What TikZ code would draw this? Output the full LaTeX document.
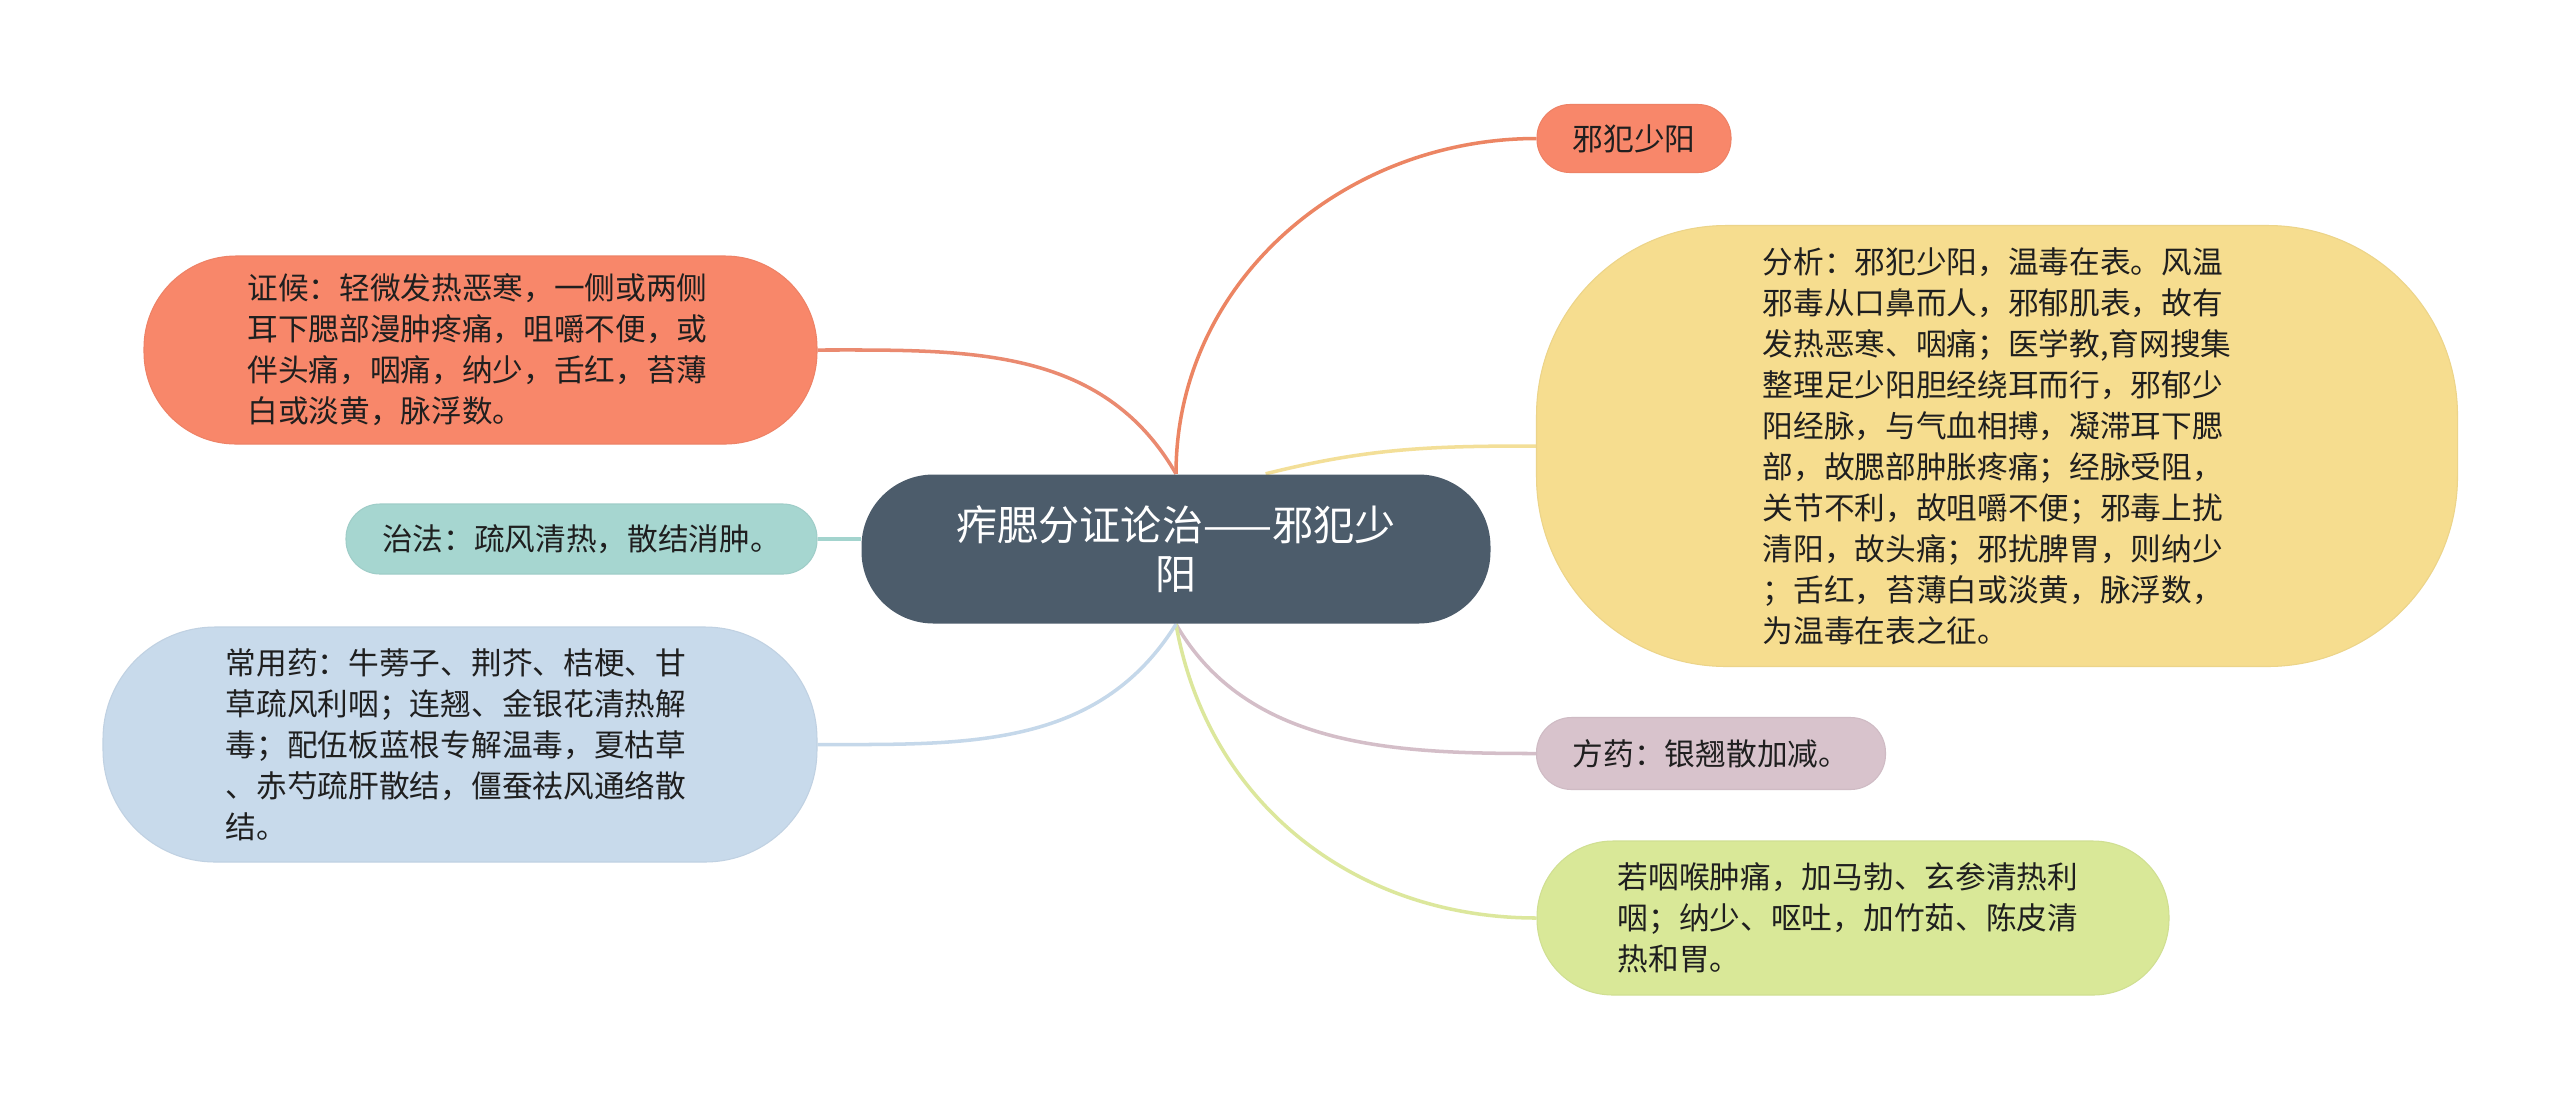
\documentclass[tikz,border=0pt]{standalone}
\usepackage{fontspec}
\newfontfamily\cjk{Noto Sans CJK SC}
\usepackage{xcolor}
\usepackage{tikz}
\usetikzlibrary{backgrounds}

\definecolor{cRoot}{HTML}{4C5C6B}
\definecolor{cCoral}{HTML}{F8876A}
\definecolor{cSand}{HTML}{F6DD8F}
\definecolor{cAqua}{HTML}{A6D6D0}
\definecolor{cSky}{HTML}{C8DAEB}
\definecolor{cMauve}{HTML}{D8C3CC}
\definecolor{cLeaf}{HTML}{D9E898}
\definecolor{lOrange}{HTML}{EC8563}
\definecolor{lCoral}{HTML}{EA8A70}
\definecolor{lSand}{HTML}{F3DF98}
\definecolor{lAqua}{HTML}{A3D4CE}
\definecolor{lSky}{HTML}{C5D8EA}
\definecolor{lMauve}{HTML}{D4BEC8}
\definecolor{lLeaf}{HTML}{DCE79C}

\begin{document}
\begin{tikzpicture}[
	root/.style={rectangle, rounded corners=0.72cm, fill=cRoot, text=white,
		minimum width=6.29cm, minimum height=1.49cm, inner sep=0pt, align=center,
		font=\cjk\fontsize{11.7pt}{13.9pt}\selectfont},
	topic/.style 2 args={rectangle, rounded corners=#2, fill=#1, draw=#1!96!black,
		line width=0.3pt, text=black!88, inner sep=0pt, align=left,
		font=\cjk\fontsize{8.73pt}{11.66pt}\selectfont},
	link/.style={draw=#1, line width=1pt}
	]
	\useasboundingbox (0,0) rectangle (25.6,-10.99);

	\node[root] (root) at (11.76,-5.49) {痄腮分证论治——邪犯少\\阳};

	\node[topic={cCoral}{0.33cm}, minimum width=1.94cm, minimum height=0.68cm] (xf) at (16.34,-1.385) {邪犯少阳};
	\node[topic={cSand}{1.9cm}, minimum width=9.21cm, minimum height=4.41cm] (fx) at (19.97,-4.46) {分析：邪犯少阳，温毒在表。风温\\邪毒从口鼻而人，邪郁肌表，故有\\发热恶寒、咽痛；医学教,育网搜集\\整理足少阳胆经绕耳而行，邪郁少\\阳经脉，与气血相搏，凝滞耳下腮\\部，故腮部肿胀疼痛；经脉受阻，\\关节不利，故咀嚼不便；邪毒上扰\\清阳，故头痛；邪扰脾胃，则纳少\\；舌红，苔薄白或淡黄，脉浮数，\\为温毒在表之征。\hspace*{0.06cm}};
	\node[topic={cMauve}{0.35cm}, minimum width=3.49cm, minimum height=0.72cm] (fy) at (17.11,-7.535) {方药：银翘散加减。};
	\node[topic={cLeaf}{0.76cm}, minimum width=6.32cm, minimum height=1.54cm] (jj) at (18.53,-9.18) {若咽喉肿痛，加马勃、玄参清热利\hspace*{0.1cm}\\咽；纳少、呕吐，加竹茹、陈皮清\\热和胃。};

	\node[topic={cCoral}{0.92cm}, minimum width=6.73cm, minimum height=1.88cm] (zh) at (4.805,-3.50) {证候：轻微发热恶寒，一侧或两侧\hspace*{0.06cm}\\耳下腮部漫肿疼痛，咀嚼不便，或\\伴头痛，咽痛，纳少，舌红，苔薄\\白或淡黄，脉浮数。};
	\node[topic={cAqua}{0.34cm}, minimum width=4.71cm, minimum height=0.70cm] (zf) at (5.815,-5.39) {治法：疏风清热，散结消肿。};
	\node[topic={cSky}{1.12cm}, minimum width=7.14cm, minimum height=2.35cm] (yy) at (4.60,-7.445) {常用药：牛蒡子、荆芥、桔梗、甘\hspace*{0.08cm}\\草疏风利咽；连翘、金银花清热解\\毒；配伍板蓝根专解温毒，夏枯草\\、赤芍疏肝散结，僵蚕祛风通络散\\结。};

	\begin{scope}[on background layer]
		\fill[white] (0,0) rectangle (25.6,-10.99);
		\draw[link=lOrange] (root.north) to[out=90,in=180] (xf.west);
		\draw[link=lSand] (root.40) to[out=14,in=180] (fx.west);
		\draw[link=lMauve] (root.south) to[out=-60,in=180,looseness=0.95] (fy.west);
		\draw[link=lLeaf] (root.south) to[out=-80,in=180] (jj.west);
		\draw[link=lCoral] (root.north) to[out=120,in=0] (zh.east);
		\draw[link=lAqua] (zf.east) -- (zf.east -| root.west);
		\draw[link=lSky] (root.south) to[out=-122,in=0] (yy.east);
	\end{scope}
\end{tikzpicture}
\end{document}
